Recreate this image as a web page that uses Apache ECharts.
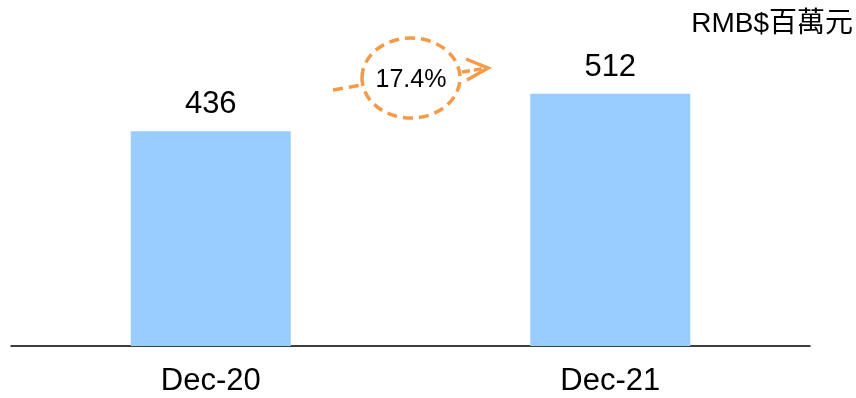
<!DOCTYPE html>
<html>
<head>
<meta charset="utf-8">
<script src="https://cdn.jsdelivr.net/npm/echarts@6/dist/echarts.min.js"></script>
<style>html,body{margin:0;padding:0;background:#fff;}#c{width:856px;height:398px;}</style>
</head>
<body>
<div id="c"></div>
<script>
var categories = ['Dec-20', 'Dec-21'];
var values = [436, 512];
var unitLabel = 'RMB$百萬元';
var growthLabel = '17.4%';

var chart = echarts.init(document.getElementById('c'));
var orange = '#F79A45';
var dash = [10, 6];
chart.setOption({
  animation: false,
  grid: { left: 11, right: 46, top: 50.5, bottom: 52, containLabel: false },
  xAxis: {
    type: 'category',
    data: categories,
    axisLine: { lineStyle: { color: '#000', width: 1.5 } },
    axisTick: { show: false },
    axisLabel: { color: '#000', fontSize: 31, fontFamily: 'Liberation Sans, Arial', margin: 20 }
  },
  yAxis: {
    type: 'value', min: 0, max: 600,
    show: false, splitLine: { show: false }
  },
  series: [{
    type: 'bar',
    data: values,
    barWidth: 160,
    itemStyle: { color: '#99CCFF' },
    label: { show: true, position: 'top', distance: 11, color: '#000', fontSize: 31, fontFamily: 'Liberation Sans, Arial' }
  }],
  graphic: [
    { type: 'text', right: 3, top: 10, style: { text: unitLabel, fill: '#000', font: '28px "Liberation Sans", "Noto Sans CJK TC", sans-serif' } },
    { type: 'ellipse', shape: { cx: 411, cy: 78, rx: 49, ry: 40 }, style: { fill: 'none', stroke: orange, lineWidth: 3.5, lineDash: dash } },
    { type: 'line', shape: { x1: 333, y1: 90, x2: 362, y2: 85 }, style: { stroke: orange, lineWidth: 3.5, lineDash: dash } },
    { type: 'line', shape: { x1: 462, y1: 72, x2: 487, y2: 68 }, style: { stroke: orange, lineWidth: 3.5, lineDash: [8, 4] } },
    { type: 'polyline', shape: { points: [[466, 59], [488, 68], [467, 80]] }, style: { fill: 'none', stroke: orange, lineWidth: 3.5 } },
    { type: 'text', x: 411, y: 80, style: { text: growthLabel, fill: '#000', align: 'center', verticalAlign: 'middle', font: '25px "Liberation Sans", Arial, sans-serif' } }
  ]
});
</script>
</body>
</html>
